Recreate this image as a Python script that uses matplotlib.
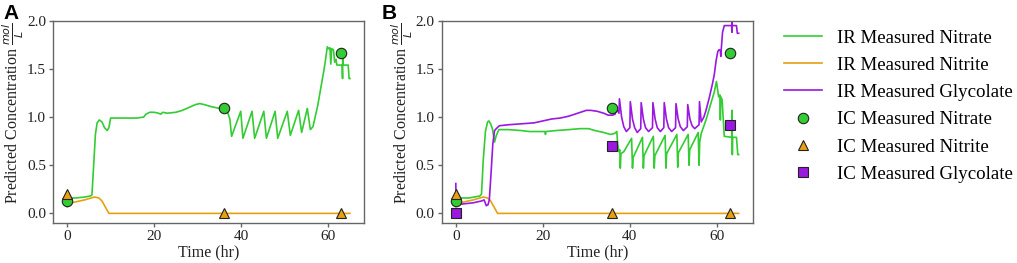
import matplotlib
matplotlib.use("Agg")
import matplotlib.pyplot as plt

# ---------------- data ----------------
ir_nitrate_a = [
    (0.0, 0.07), (0.2, 0.16), (2.0, 0.16), (4.0, 0.17), (5.3, 0.18), (5.7, 0.19),
    (6.1, 0.50), (6.5, 0.82), (6.9, 0.94), (7.4, 0.97), (8.0, 0.95), (8.6, 0.89),
    (9.2, 0.86), (9.6, 0.89), (10.0, 0.99), (12.0, 0.99), (14.0, 0.99), (16.0, 0.99),
    (17.6, 1.00), (18.1, 1.03), (19.0, 1.05), (20.0, 1.05), (21.0, 1.04), (21.5, 1.03),
    (22.0, 1.05), (23.0, 1.04), (25.0, 1.05), (26.5, 1.07), (28.0, 1.10), (29.5, 1.13),
    (30.5, 1.14), (31.5, 1.13), (33.0, 1.11), (35.0, 1.09), (36.3, 1.07), (36.8, 1.06),
    (37.1, 1.02), (37.4, 0.98), (37.8, 0.80),
    (39.9, 1.06), (40.4, 0.78), (42.5, 1.06), (43.1, 0.78), (45.2, 1.06), (45.8, 0.78),
    (47.8, 1.06), (48.4, 0.78), (50.6, 1.06), (51.3, 0.81), (53.2, 1.07), (53.9, 0.84),
    (55.2, 1.09), (55.9, 0.87),
    (56.5, 0.90), (57.0, 1.00), (57.6, 1.12), (58.1, 1.25), (58.6, 1.38), (59.0, 1.48),
    (59.4, 1.60), (59.8, 1.73), (60.1, 1.71), (60.4, 1.72), (60.6, 1.55), (60.8, 1.71),
    (61.2, 1.70), (61.5, 1.57), (61.8, 1.60), (62.0, 1.54), (63.2, 1.54), (63.3, 1.40),
    (63.35, 1.68), (63.45, 1.54), (64.6, 1.54), (64.8, 1.40), (65.0, 1.40),
]

ir_nitrite = [
    (0.0, 0.10), (2.0, 0.12), (4.0, 0.14), (6.3, 0.17), (7.3, 0.16), (8.0, 0.13),
    (9.6, 0.0), (65.0, 0.0),
]

ir_nitrate_b = [
    (0.0, 0.07), (0.2, 0.16), (3.0, 0.16), (5.5, 0.18), (5.9, 0.20), (6.3, 0.55),
    (6.8, 0.85), (7.3, 0.95), (7.6, 0.96), (8.0, 0.93), (8.4, 0.88), (8.9, 0.74),
    (9.3, 0.81), (9.9, 0.87), (12.0, 0.87), (15.0, 0.86), (17.0, 0.85), (19.0, 0.85),
    (20.5, 0.85), (20.6, 0.82), (20.7, 0.85), (23.0, 0.86), (26.0, 0.87), (28.5, 0.88),
    (30.5, 0.88), (32.0, 0.86), (34.0, 0.84), (35.5, 0.82), (36.5, 0.83), (37.0, 0.85),
    (37.2, 0.72), (37.5, 0.64), (37.7, 0.66), (37.8, 0.47), (37.95, 0.62), (38.6, 0.64),
    (40.4, 0.78), (40.6, 0.47), (40.75, 0.58), (42.9, 0.79), (43.1, 0.47), (43.25, 0.60),
    (45.4, 0.80), (45.6, 0.47), (45.75, 0.60), (48.1, 0.81), (48.3, 0.47), (48.45, 0.62),
    (50.8, 0.82), (51.0, 0.48), (51.15, 0.63), (53.4, 0.82), (53.6, 0.50), (53.75, 0.66),
    (55.7, 0.84), (55.9, 0.50), (56.05, 0.74), (56.4, 0.83), (57.5, 0.97), (58.6, 1.14),
    (59.4, 1.26), (59.9, 1.37), (60.4, 1.21), (60.7, 1.23), (60.8, 0.97), (60.9, 1.21),
    (61.2, 1.18), (61.7, 0.80), (63.4, 0.79), (63.5, 1.07), (63.55, 0.61), (63.6, 0.79),
    (64.5, 0.79), (64.8, 0.61), (65.0, 0.61),
]

ir_glycolate_b = [
    (0.0, 0.31), (0.05, 0.09), (2.0, 0.10), (4.0, 0.11), (6.0, 0.13), (6.5, 0.14),
    (7.0, 0.08), (7.4, 0.09), (7.7, 0.14), (8.1, 0.42), (8.5, 0.72), (8.9, 0.86),
    (9.3, 0.88), (10.0, 0.91), (12.0, 0.92), (15.0, 0.93), (18.0, 0.94), (20.0, 0.96),
    (22.0, 0.98), (24.0, 0.99), (26.0, 1.01), (28.0, 1.04), (30.0, 1.07), (31.0, 1.07),
    (32.5, 1.06), (34.0, 1.04), (35.0, 1.02), (36.0, 1.02), (36.6, 1.03), (37.0, 1.08),
    (37.5, 1.04), (37.6, 1.19),
    (38.1, 1.00), (38.6, 0.90), (39.2, 0.85), (40.0, 0.89), (40.1, 1.16),
    (40.6, 0.98), (41.1, 0.89), (41.7, 0.84), (42.5, 0.88), (42.6, 1.15),
    (43.1, 0.98), (43.6, 0.89), (44.3, 0.85), (45.2, 0.89), (45.3, 1.15),
    (45.8, 0.98), (46.3, 0.89), (47.0, 0.85), (47.8, 0.89), (47.9, 1.15),
    (48.4, 0.98), (48.9, 0.89), (49.6, 0.85), (50.5, 0.89), (50.6, 1.14),
    (51.1, 0.98), (51.6, 0.90), (52.3, 0.86), (53.2, 0.90), (53.3, 1.13),
    (53.8, 0.98), (54.3, 0.91), (54.9, 0.88), (55.9, 0.92), (56.0, 1.16),
    (56.4, 0.95), (57.0, 1.00), (57.5, 1.07), (58.3, 1.21), (59.0, 1.35), (59.4, 1.44),
    (59.8, 1.58), (60.2, 1.68), (60.5, 1.70), (60.8, 1.69), (60.9, 1.63), (61.0, 1.70),
    (61.3, 1.88), (61.7, 1.95), (63.4, 1.95), (63.45, 1.88), (63.5, 2.00), (63.55, 1.95),
    (64.5, 1.95), (64.7, 1.87), (65.0, 1.87),
]

ic_time = [0, 36, 63]
ic_nitrate = [0.13, 1.09, 1.67]
ic_nitrite = [0.20, 0.0, 0.0]
ic_glycolate = [0.0, 0.70, 0.92]

labels = ["IR Measured Nitrate", "IR Measured Nitrite", "IR Measured Glycolate",
          "IC Measured Nitrate", "IC Measured Nitrite", "IC Measured Glycolate"]

# ---------------- style ----------------
GREEN = "#33cc33"
ORANGE = "#e6a010"
PURPLE = "#9a18e0"
SPINE = "#666666"
TXT = "#222222"

plt.rcParams["font.family"] = ["Liberation Serif", "DejaVu Serif"]

fig = plt.figure(figsize=(10.17, 2.63), dpi=100)
ax_a = fig.add_axes([0.0521, 0.152, 0.3059, 0.769])
ax_b = fig.add_axes([0.4343, 0.152, 0.3059, 0.769])


def xy(pts):
    return [p[0] for p in pts], [p[1] for p in pts]


def style(ax):
    ax.set_xlim(-3.25, 68.25)
    ax.set_ylim(-0.1, 2.0)
    ax.set_xticks([0, 20, 40, 60])
    ax.set_yticks([0.0, 0.5, 1.0, 1.5, 2.0])
    ax.set_yticklabels(["0.0", "0.5", "1.0", "1.5", "2.0"])
    for s in ax.spines.values():
        s.set_color(SPINE)
        s.set_linewidth(1.0)
    ax.tick_params(direction="out", length=3, width=1.0, color=SPINE,
                   labelsize=11, labelcolor=TXT, pad=2)
    ax.set_xlabel("Time (hr)", fontsize=11.5, labelpad=1, color=TXT)
    ax.set_ylabel(r"Predicted Concentration $\frac{mol}{L}$", fontsize=11.5,
                  color=TXT, va="center")
    ax.yaxis.set_label_coords(-0.128, 0.545)


LW = 1.2
MS = 7.5
# Panel A
x, y = xy(ir_nitrate_a)
ax_a.plot(x, y, color=GREEN, lw=LW)
x, y = xy(ir_nitrite)
ax_a.plot(x, y, color=ORANGE, lw=LW)
ax_a.plot(ic_time, ic_nitrate, ls="none", marker="o", ms=MS, mfc=GREEN, mec=TXT, mew=0.8)
ax_a.plot(ic_time, ic_nitrite, ls="none", marker="^", ms=MS, mfc=ORANGE, mec=TXT, mew=0.8)
style(ax_a)

# Panel B
x, y = xy(ir_nitrate_b)
h1, = ax_b.plot(x, y, color=GREEN, lw=LW)
x, y = xy(ir_nitrite)
h2, = ax_b.plot(x, y, color=ORANGE, lw=LW)
x, y = xy(ir_glycolate_b)
h3, = ax_b.plot(x, y, color=PURPLE, lw=LW)
h4, = ax_b.plot(ic_time, ic_nitrate, ls="none", marker="o", ms=MS, mfc=GREEN, mec=TXT, mew=0.8)
h5, = ax_b.plot(ic_time, ic_nitrite, ls="none", marker="^", ms=MS, mfc=ORANGE, mec=TXT, mew=0.8)
h6, = ax_b.plot(ic_time, ic_glycolate, ls="none", marker="s", ms=MS - 0.5, mfc=PURPLE, mec=TXT, mew=0.8)
style(ax_b)

fig.legend([h1, h2, h3, h4, h5, h6], labels, loc="upper left",
           bbox_to_anchor=(0.754, 0.953), frameon=False,
           labelspacing=0.53, handlelength=2.0, handletextpad=0.8,
           prop={"family": ["Liberation Serif"], "size": 13.6})

fig.text(0.003, 0.985, "A", fontsize=15, fontweight="bold", family="Liberation Sans", va="top")
fig.text(0.375, 0.985, "B", fontsize=15, fontweight="bold", family="Liberation Sans", va="top")

fig.savefig("out.png", dpi=100)
